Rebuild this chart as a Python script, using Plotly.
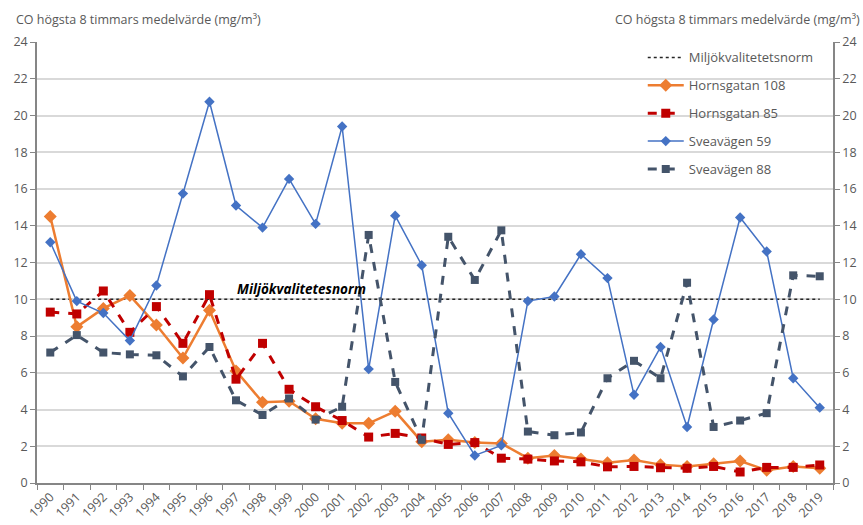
import plotly.graph_objects as go

years = [str(y) for y in range(1990, 2020)]

norm_value = 10
hornsgatan_108 = [14.5, 8.5, 9.5, 10.2, 8.6, 6.8, 9.4, 6.1, 4.4, 4.45, 3.5, 3.25, 3.25, 3.9, 2.25,
                  2.35, 2.2, 2.15, 1.35, 1.5, 1.3, 1.1, 1.25, 1.0, 0.9, 1.05, 1.2, 0.7, 0.9, 0.8]
hornsgatan_85 = [9.3, 9.2, 10.45, 8.2, 9.6, 7.6, 10.25, 5.65, 7.6, 5.1, 4.15, 3.4, 2.5, 2.7, 2.45,
                 2.1, 2.2, 1.35, 1.3, 1.2, 1.15, 0.88, 0.9, 0.83, 0.8, 0.9, 0.6, 0.85, 0.85, 0.98]
sveavagen_59 = [13.1, 9.9, 9.25, 7.75, 10.75, 15.75, 20.75, 15.1, 13.9, 16.55, 14.1, 19.4, 6.2, 14.55, 11.85,
                3.8, 1.5, 2.05, 9.9, 10.15, 12.45, 11.15, 4.8, 7.4, 3.05, 8.9, 14.45, 12.6, 5.7, 4.1]
sveavagen_88 = [7.1, 8.05, 7.1, 7.0, 6.95, 5.8, 7.4, 4.5, 3.7, 4.6, 3.45, 4.15, 13.5, 5.5, 2.35,
                13.4, 11.05, 13.75, 2.8, 2.6, 2.75, 5.7, 6.65, 5.7, 10.9, 3.05, 3.4, 3.8, 11.3, 11.25]

y_ticks = list(range(0, 25, 2))
axis_title = "CO högsta 8 timmars medelvärde (mg/m³)"
norm_label_legend = "Miljökvalitetetsnorm"
norm_label_chart = "Miljökvalitetesnorm"

FONT = "Open Sans"
GREY = "#595959"

fig = go.Figure()

fig.add_trace(go.Scatter(
    x=years, y=[norm_value] * len(years), name=norm_label_legend, mode="lines",
    line=dict(color="#262626", width=1.5, dash="dot"), legendgroup="a"))
fig.add_trace(go.Scatter(
    x=years, y=hornsgatan_108, name="Hornsgatan 108", mode="lines+markers",
    line=dict(color="#ED7D31", width=2.5),
    marker=dict(symbol="diamond", size=10, color="#ED7D31"), legendgroup="b"))
fig.add_trace(go.Scatter(
    x=years, y=hornsgatan_85, name="Hornsgatan 85", mode="lines+markers",
    line=dict(color="#C00000", width=3, dash="dash"),
    marker=dict(symbol="square", size=9, color="#C00000"), legendgroup="c"))
fig.add_trace(go.Scatter(
    x=years, y=sveavagen_59, name="Sveavägen 59", mode="lines+markers",
    line=dict(color="#4472C4", width=1.5),
    marker=dict(symbol="diamond", size=8, color="#4472C4"), legendgroup="d"))
fig.add_trace(go.Scatter(
    x=years, y=sveavagen_88, name="Sveavägen 88", mode="lines+markers",
    line=dict(color="#44546A", width=3, dash="dash"),
    marker=dict(symbol="square", size=8, color="#44546A"), legendgroup="e"))
# invisible trace to activate the mirrored right axis
fig.add_trace(go.Scatter(
    x=years, y=[norm_value] * len(years), yaxis="y2", mode="lines",
    line=dict(color="rgba(0,0,0,0)"), showlegend=False, hoverinfo="skip"))

fig.add_annotation(x=9.45, y=norm_value, text="<b><i>" + norm_label_chart + "</i></b>",
                   showarrow=False, yanchor="bottom", yshift=-1,
                   font=dict(family=FONT, size=13.5, color="#000000"))
fig.add_annotation(x=-0.029, y=1.05, xref="paper", yref="paper", xanchor="left", yanchor="middle",
                   text=axis_title, showarrow=False, font=dict(family=FONT, size=12.5, color=GREY))
fig.add_annotation(x=1.036, y=1.05, xref="paper", yref="paper", xanchor="right", yanchor="middle",
                   text=axis_title, showarrow=False, font=dict(family=FONT, size=12.5, color=GREY))

yaxis_common = dict(range=[0, 24], tickvals=y_ticks, ticks="outside", ticklen=5,
                    tickcolor="#868686", showline=True, linecolor="#868686", linewidth=1.5,
                    tickfont=dict(family=FONT, size=12.5, color=GREY), zeroline=False)

fig.update_layout(
    width=863, height=525,
    margin=dict(l=37, r=30, t=42, b=42, autoexpand=False),
    paper_bgcolor="white", plot_bgcolor="white",
    font=dict(family=FONT, color=GREY),
    showlegend=True,
    legend=dict(x=0.761, y=0.999, xanchor="left", yanchor="top",
                font=dict(family=FONT, size=13, color=GREY),
                traceorder="grouped", tracegroupgap=8, itemwidth=36,
                bgcolor="rgba(255,255,255,0)"),
    xaxis=dict(type="category", range=[-0.5, 29.5], tickangle=-45, tickson="boundaries",
               ticks="outside", ticklen=5, tickcolor="#868686", showline=True,
               linecolor="#868686", linewidth=1.5, showgrid=False,
               tickfont=dict(family=FONT, size=12.5, color=GREY)),
    yaxis=dict(showgrid=True, gridcolor="#D9D9D9", gridwidth=1.5, **yaxis_common),
    yaxis2=dict(overlaying="y", side="right", showgrid=False, **yaxis_common),
)

fig.write_html("out.html", config={"displayModeBar": False},
               post_script="document.body.style.margin='0';document.body.style.overflow='hidden';")
